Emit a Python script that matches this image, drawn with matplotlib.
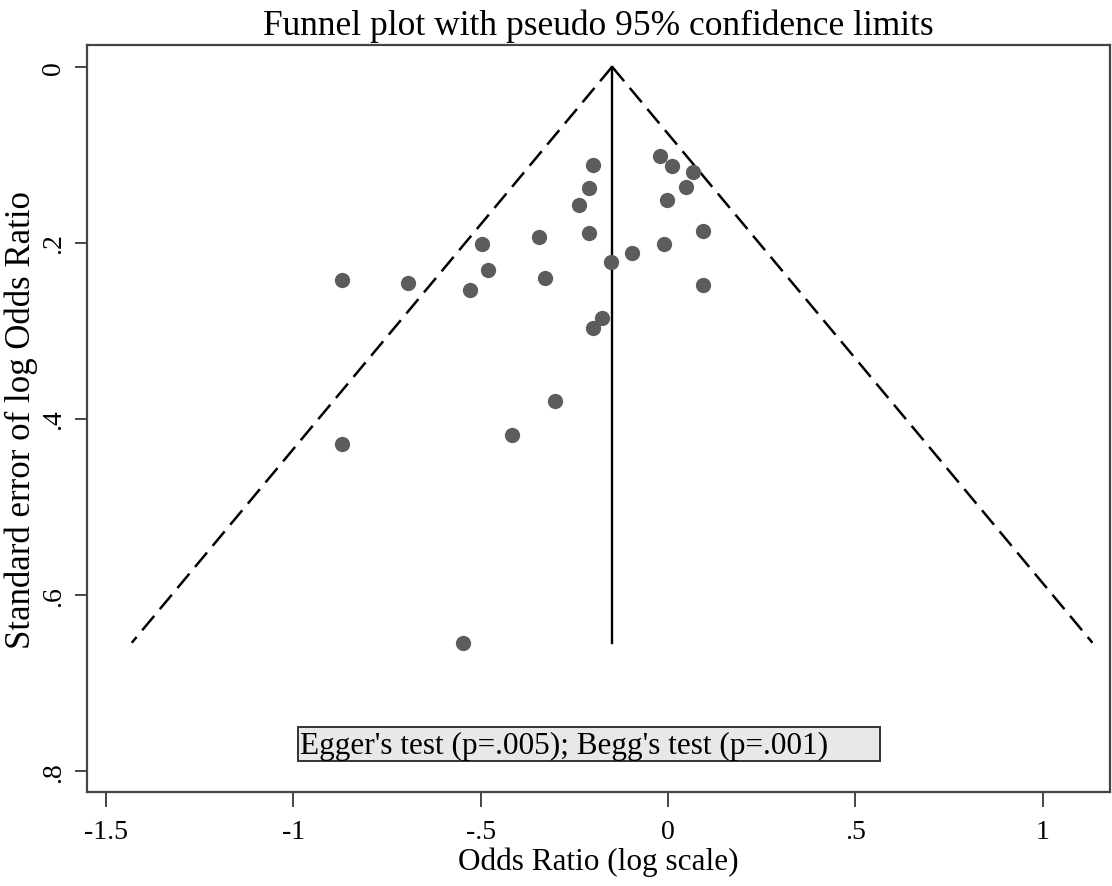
import numpy as np
import matplotlib
matplotlib.use("Agg")
import matplotlib.pyplot as plt
from matplotlib.patches import Rectangle

# log odds ratio and its standard error, one per study
log_or = [-0.201, -0.211, -0.237, -0.211, -0.343, -0.495, -0.481, -0.329, -0.528,
          -0.695, -0.870, -0.152, -0.095, -0.011, 0.094, 0.094, -0.021, 0.010,
          0.068, 0.047, -0.002, -0.177, -0.201, -0.870, -0.417, -0.302, -0.546]
se = [0.111, 0.138, 0.157, 0.189, 0.193, 0.201, 0.231, 0.240, 0.254,
      0.246, 0.242, 0.222, 0.211, 0.201, 0.187, 0.248, 0.101, 0.113,
      0.119, 0.136, 0.151, 0.285, 0.297, 0.428, 0.418, 0.380, 0.654]
pooled = -0.149

x_ticks = [-1.5, -1, -0.5, 0, 0.5, 1]
x_labels = ["-1.5", "-1", "-.5", "0", ".5", "1"]
y_ticks = [0, 0.2, 0.4, 0.6, 0.8]
y_labels = ["0", ".2", ".4", ".6", ".8"]
note = "Egger's test (p=.005); Begg's test (p=.001)"

plt.rcParams['font.family'] = ['Liberation Serif', 'DejaVu Serif']

fig = plt.figure(figsize=(11.12, 8.87), dpi=100)
ax = fig.add_axes([0.078, 0.1056, 0.92, 0.8424])

max_se = max(se)
se_line = np.array([0, max_se])
ax.plot(pooled - 1.96 * se_line, se_line, color='black', lw=1.8, ls=(0, (7.5, 3.5)))
ax.plot(pooled + 1.96 * se_line, se_line, color='black', lw=1.8, ls=(0, (7.5, 3.5)))
ax.plot([pooled, pooled], [0, max_se], color='black', lw=1.7)

ax.plot(log_or, se, 'o', color='#5c5c5c', ms=11, mec='none')

ax.set_xlim(-1.551, 1.179)
ax.set_ylim(0.8238, -0.0246)

ax.set_xticks(x_ticks)
ax.set_xticklabels(x_labels)
ax.set_yticks(y_ticks)
ax.set_yticklabels(y_labels, rotation=90, va='center')
ax.tick_params(axis='x', length=11, width=1.4, color='#444444', labelsize=20, pad=8)
ax.tick_params(axis='y', length=9, width=1.4, color='#444444', labelsize=20, pad=6)

for s in ax.spines.values():
    s.set_linewidth(1.6)
    s.set_color('#444444')

ax.set_xlabel("Odds Ratio (log scale)", fontsize=22.5, labelpad=2)
ax.set_ylabel("Standard error of log Odds Ratio", fontsize=25, labelpad=2)
ax.set_title("Funnel plot with pseudo 95% confidence limits", fontsize=25.5, pad=8)

# note box
ax.add_patch(Rectangle((-0.987, 0.750), 1.553, 0.038, facecolor='#e8e8e8',
                       edgecolor='#333333', lw=1.4, zorder=3))
ax.text(-0.982, 0.771, note, fontsize=22.5, va='center', ha='left', zorder=4)

fig.savefig("out.png", dpi=100)
